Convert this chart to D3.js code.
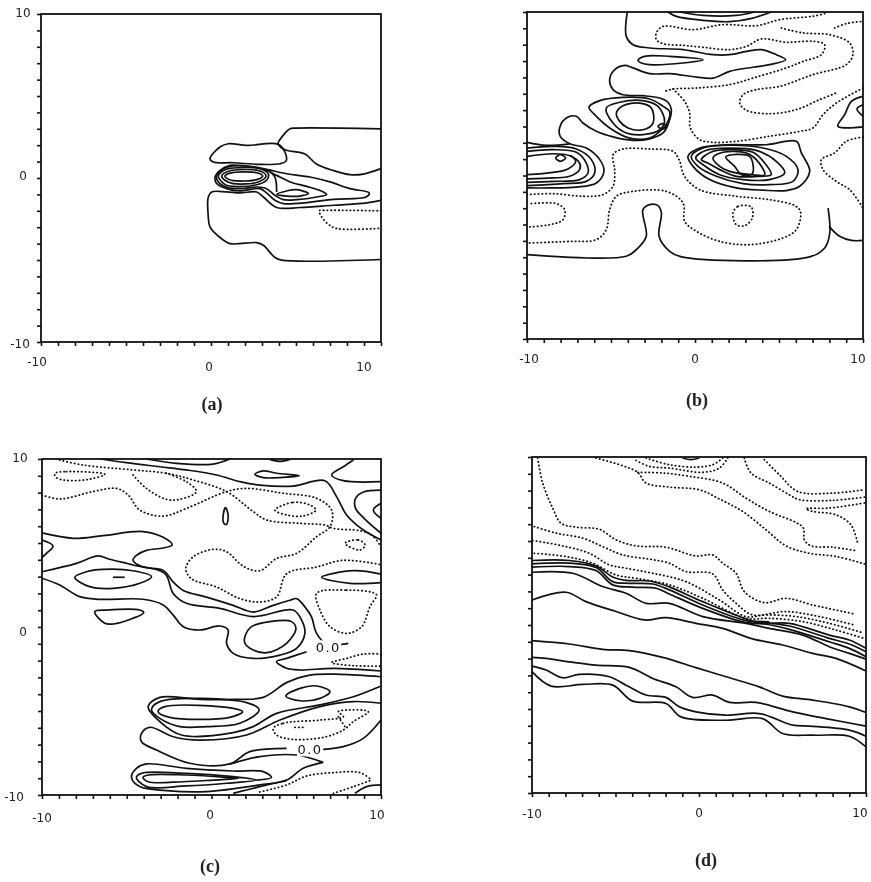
<!DOCTYPE html>
<html>
<head>
<meta charset="utf-8">
<script src="https://cdn.jsdelivr.net/npm/d3@7"></script>
<style>
  body { margin: 0; background: #fff; }
  svg { display: block; filter: blur(0.35px); }
  .frame { fill: none; stroke: #111; stroke-width: 1.8; }
  .solid { fill: none; stroke: #111; stroke-width: 1.7; stroke-linejoin: round; }
  .dotted { fill: none; stroke: #111; stroke-width: 1.8; stroke-linecap: round; stroke-dasharray: 0.4 3.4; }
  .tick-label { font-family: "DejaVu Sans", sans-serif; font-size: 12px; fill: #222; text-anchor: middle; }
  .panel-label { font-family: "Liberation Serif", serif; font-size: 18px; fill: #222; text-anchor: middle; font-weight: bold; }
  .level-label { font-family: "DejaVu Sans", sans-serif; font-size: 13px; fill: #111; text-anchor: middle; letter-spacing: 1.5px; }
</style>
</head>
<body>
<svg id="chart" width="871" height="882"></svg>
<script>
// Axis values
const axisDomain = [-10, 10];
const tickValues = d3.range(-10, 11);
const labelValues = [-10, 0, 10];

// Panel (a) contours, [x, y] in plot units
const aSolid = [
  [[10,3.0],[5.04,3.04],[4.65,3.0],[3.96,2.17],[3.96,2.05],[4.35,1.72],[5.53,1.46],[6.2,.85],[7.2,.45],[8.18,.2],[8.96,.24],[10,.57]],
  [[10,-4.97],[4.16,-5.01],[3.76,-4.85],[3.08,-4.1],[2.69,-3.94],[1.12,-4.0],[.53,-3.63],[-.06,-2.98],[-.16,-2.37],[-.16,-1.16],[.04,-.85],[.92,-.85],[1.7,-.91],[2.69,-.85],[3.08,-1.16],[3.86,-1.8],[5.24,-1.8],[7.2,-1.66],[9.16,-1.52],[10,-1.36]],
  [[3.37,.47],[3.76,.06],[3.86,-.85]]
];
const aClosed = [
  [[-.06,1.18],[.53,1.89],[1.02,2.09],[2.1,1.99],[3.96,2.05],[4.39,1.48],[4.41,1.03],[4.06,.87],[2.88,.83],[1.31,.93],[.14,.97]],
  [[9.31,-.91],[9.12,-1.16],[7.2,-1.3],[5.63,-1.5],[4.25,-1.56],[3.76,-1.36],[3.27,-.91],[2.88,-.65],[1.7,-.79],[.92,-.65],[.33,-.34],[.24,.06],[.53,.47],[1.12,.77],[2.1,.73],[3.08,.57],[4.45,.26],[5.82,.06],[7.0,-.24],[8.18,-.65]],
  [[3.27,.47],[3.86,.16],[4.65,-.24],[5.63,-.51],[6.61,-.85],[6.8,-1.01],[6.22,-1.16],[5.04,-1.32],[4.25,-1.32],[3.76,-1.06],[3.27,-.65],[2.69,-.55],[1.7,-.65],[.92,-.55],[.43,-.24],[.33,.12],[.73,.57],[1.31,.73],[2.49,.67]],
  [[.43,.12],[.82,.51],[1.31,.61],[2.88,.57],[3.37,.26],[3.27,-.14],[2.69,-.41],[1.31,-.51],[.82,-.39]],
  [[.63,.12],[1.02,.41],[2.88,.43],[3.24,.12],[2.78,-.24],[1.31,-.34],[.82,-.14]],
  [[.82,.12],[1.12,.3],[2.69,.32],[3.04,.12],[2.69,-.1],[1.31,-.16],[.96,-.04]],
  [[3.86,-1.0],[4.45,-.79],[5.04,-.71],[5.73,-.95],[5.24,-1.1],[4.45,-1.1]]
];
const aDotted = [
  [[10,-2.0],[6.8,-1.97],[6.37,-2.0],[6.51,-2.37],[6.9,-2.82],[7.39,-3.08],[10,-3.06]]
];

// Panel (b) contours
const bSolid = [
  [[-4.03,10],[-4.09,8.51],[-3.69,8.0],[-2.7,7.8],[-.71,7.7],[1.07,7.39],[2.06,7.39],[3.06,7.59],[3.95,7.7],[4.84,7.39],[5.4,7.08],[4.44,6.78],[3.45,6.62],[2.06,6.37],[1.07,5.96],[.08,6.02],[-1.51,6.23],[-2.7,6.23],[-3.69,6.58],[-4.19,6.74],[-4.78,6.47],[-5.08,5.86],[-4.88,5.25],[-4.29,4.94],[-3.1,4.88],[-2.1,4.74],[-1.61,4.48],[-1.41,4.04],[-1.61,3.11],[-1.9,2.6],[-2.7,2.24],[-3.69,2.15],[-4.88,2.36],[-5.87,2.7],[-6.67,3.21],[-7.06,3.62],[-7.66,3.52],[-8.06,2.91],[-8.02,2.39],[-7.46,1.94],[-6.47,1.68],[-5.67,.97],[-5.42,.26],[-5.87,-.46],[-7.06,-.71],[-8.65,-.76],[-10,-.76]],
  [[-1.61,10],[-1.11,9.73],[.48,9.49],[2.06,9.41],[3.45,9.63],[4.54,10]],
  [[-.91,10],[.48,9.79],[2.46,9.79],[3.55,10]],
  [[10,4.84],[9.31,4.54],[8.91,3.72],[8.51,3.01],[10,2.97]],
  [[10,4.33],[9.64,4.07],[10,3.62]],
  [[-10,2.03],[-8.85,1.85],[-7.46,1.94]],
  [[-10,1.68],[-8.45,1.78],[-7.06,1.62],[-6.17,.97],[-5.97,.15],[-6.47,-.36],[-7.86,-.5],[-10,-.62]],
  [[-10,1.48],[-8.45,1.58],[-7.06,1.42],[-6.47,.76],[-6.37,.15],[-6.87,-.25],[-8.45,-.36],[-10,-.42]],
  [[-10,1.17],[-8.45,1.33],[-7.46,1.21],[-6.87,.76],[-6.87,.36],[-7.46,-.05],[-8.45,-.15],[-10,-.21]],
  [[-10,.05],[-8.45,.19],[-7.56,.4],[-7.1,.87],[-7.46,1.27]],
  [[-10,-4.84],[-4.09,-4.94],[-3.39,-4.43],[-2.9,-3.72],[-3.1,-2.09],[-2.7,-1.78],[-2.2,-1.84],[-2,-2.29],[-2.14,-3.72],[-1.51,-4.64],[-.81,-4.98],[6.83,-4.98],[7.72,-4.43],[8.02,-3.52],[7.92,-2.0]],
  [[7.98,-3.11],[8.61,-3.72],[9.31,-3.97],[10,-3.97]]
];
const bClosed = [
  [[-3.39,7.04],[-3,7.29],[-1.51,7.29],[.48,7.08],[-.71,6.88],[-2.7,6.78],[-3.19,6.88]],
  [[-6.31,4.19],[-5.67,4.58],[-4.29,4.78],[-2.7,4.68],[-1.9,4.23],[-1.51,3.92],[-1.71,3.11],[-2.1,2.7],[-2.7,2.29],[-3.89,2.29],[-5.08,2.91],[-5.87,3.62]],
  [[-5.28,4.13],[-4.48,4.48],[-3.1,4.58],[-2.2,4.23],[-1.81,3.31],[-2.1,2.8],[-3.1,2.5],[-4.09,2.6],[-4.88,3.21]],
  [[-4.68,3.82],[-4.29,4.27],[-3.29,4.43],[-2.6,4.13],[-2.5,3.21],[-3.1,2.8],[-3.99,2.91],[-4.48,3.31]],
  [[-2.2,3.01],[-1.94,3.17],[-1.67,3.01],[-1.94,2.85]],
  [[-8.29,1.07],[-8.02,1.27],[-7.7,1.07],[-8.02,.87]],
  [[-.42,1.17],[.28,1.68],[1.87,1.88],[4.25,1.88],[6.03,2.09],[6.33,1.38],[6.83,.25],[6.23,-.66],[5.44,-.92],[4.05,-.9],[2.46,-.76],[.87,-.25],[-.12,.56]],
  [[-.22,1.17],[.48,1.68],[2.06,1.85],[4.05,1.68],[5.44,1.17],[6.13,.36],[5.83,-.36],[4.44,-.56],[2.86,-.5],[1.27,-.05],[.18,.56]],
  [[.04,1.07],[.67,1.54],[2.06,1.68],[3.65,1.54],[4.84,.87],[5.34,.15],[4.44,-.25],[2.86,-.25],[1.47,.05],[.48,.66]],
  [[.38,.97],[.97,1.44],[2.06,1.58],[3.45,1.42],[4.15,.76],[4.54,.05],[3.85,-.05],[2.46,-.05],[1.47,.36],[.77,.76]],
  [[1.07,1.07],[1.67,1.42],[3.06,1.38],[3.65,.97],[4.15,.05],[3.35,.05],[2.06,.25],[1.47,.56]],
  [[1.83,1.13],[3.25,1.17],[3.41,.11],[2.76,.05],[2.36,.56]]
];
const bDotted = [
  [[7.72,9.9],[7.02,9.74],[5.04,9.53],[3.65,9.16],[1.67,9.23],[-.12,8.92],[-1.9,9.12],[-2.3,8.72],[-2.3,8.31],[-1.9,8.06],[-.71,7.96],[.48,7.84],[2.06,7.7],[3.06,7.9],[3.95,8.35],[5.44,8.15],[7.02,8.21],[7.72,8.0],[7.52,7.39],[6.43,6.98],[5.44,6.58],[3.65,6.02],[2.06,5.56],[.08,5.35],[-1.31,5.29],[-1.9,5.11]],
  [[-1.31,5.29],[-.62,4.54],[-.32,3.82],[-.28,2.91],[.28,2.19],[1.07,2.03],[2.46,2.09],[4.44,2.4],[6.23,2.7],[7.02,2.91],[7.62,3.72],[8.41,4.43],[10,5.35]],
  [[5.14,9.02],[6.43,8.72],[8.02,8.61],[9.21,8.1],[9.4,7.39],[9.0,6.78],[7.02,6.17],[5.04,5.45],[3.65,5.25],[2.86,4.94],[2.66,4.43],[3.06,3.99],[4.44,3.78],[6.03,4.03],[7.42,4.64],[8.41,5.05]],
  [[8.31,9.02],[9.0,9.29],[10,9.43]],
  [[-10,-1.17],[-8.45,-1.11],[-6.67,-1.27],[-5.48,-1.17],[-4.88,-.66],[-4.78,.36],[-4.88,1.27],[-4.29,1.62],[-2.7,1.62],[-1.31,1.48],[-.95,.97],[-.62,-.05],[.28,-.87],[2.46,-1.27],[4.44,-1.48],[6.03,-1.89],[6.29,-2.29],[6.03,-3.31],[5.24,-3.82],[3.25,-4.23],[1.47,-4.03],[.08,-3.41],[-.62,-2.8],[-.71,-1.68],[-1.71,-.97],[-3.69,-.97],[-4.68,-1.27],[-5.08,-2.09],[-5.28,-3.31],[-5.87,-3.92],[-7.46,-4.03],[-10,-4.13]],
  [[-9.74,-1.72],[-8.25,-1.72],[-7.76,-2.09],[-7.86,-2.7],[-8.65,-3.01],[-10,-3.15]],
  [[10,2.35],[9.0,2.09],[8.31,1.38],[7.52,.97],[7.62,.36],[8.41,-.36],[9.21,-.87],[10,-1.99]]
];
const bDottedClosed = [
  [[2.26,-2.29],[2.56,-1.89],[3.35,-1.93],[3.41,-2.6],[2.96,-3.07],[2.46,-3.01]]
];

// Panel (c) contours
const cSolid = [
  [[-6.5,10],[-5.02,9.78],[-3.05,9.54],[-1.48,9.35],[.3,9.05],[1.67,8.65],[2.85,8.45],[4.82,8.39],[6.69,8.71],[7.38,7.76],[7.97,6.67],[8.96,5.77],[10,5.18]],
  [[-3.84,10],[-2.07,9.74],[.1,9.7],[1.08,10]],
  [[3.44,9.98],[4.04,9.86],[4.63,9.98]],
  [[8.37,9.94],[7.78,9.54],[7.09,9.05],[7.78,8.71],[10,8.65]],
  [[10,8.15],[9.0,8.05],[8.5,7.66],[8.5,7.06],[9.0,6.47],[10,5.58]],
  [[10,7.36],[9.55,6.96],[10,6.47]],
  [[-10,5.6],[-8.14,5.28],[-6.4,5.44],[-4.04,5.68],[-2.85,5.34],[-2.32,4.89],[-2.85,4.7],[-3.84,4.56],[-4.43,4.26],[-4.63,3.97],[-4.04,3.57],[-2.85,3.37],[-2.26,2.68],[-1.67,2.18],[-.3,1.78],[1.28,1.29],[2.46,.89],[3.64,1.29],[4.63,1.59],[5.02,1.69],[5.51,1.2],[5.9,.6],[6.2,-.38],[6.79,-1.01],[8.07,-.97]],
  [[-10,3.29],[-7.97,3.79],[-6.69,4.23],[-6,4.03],[-4.63,3.69],[-2.76,3.19],[-2.26,2],[-1.48,1.41],[.49,1.11],[2.46,.62],[4.82,1.01],[5.31,.42],[5.51,-.38],[5.02,-1.27],[4.04,-1.67],[2.46,-1.87],[1.28,-1.57],[.89,-.97],[.98,-.18],[.49,.06],[-.69,-.18],[-1.67,.02],[-2.26,.71],[-2.85,1.31],[-4.04,1.65],[-6.59,1.65],[-7.78,1.81],[-8.96,2.5],[-10,2.9]],
  [[-10,5.18],[-9.35,4.82],[-9.74,4.38],[-10,4.13]],
  [[-5.81,2.96],[-5.12,2.96]],
  [[10,3.15],[8.37,3.35],[6.5,2.96],[8.17,2.6],[10,2.64]],
  [[5.61,-1.47],[4.43,-1.87],[3.84,-2.06],[4.43,-2.46],[5.22,-2.56],[7.19,-2.46],[10,-2.62]],
  [[10,-2.96],[7.64,-2.82],[5.81,-2.86],[4.43,-3.31],[3.05,-4.19],[1.28,-4.31],[-.69,-4.31],[-3.05,-4.19],[-3.74,-4.74],[-3.05,-5.63],[-1.77,-6.43],[1.28,-6.29],[2.46,-5.93],[3.84,-5.14],[6.4,-4.64],[8.37,-4.15],[10,-3.51]],
  [[10,-4.54],[8.37,-4.44],[6.4,-4.74],[4.04,-5.54],[2.07,-6.43],[-.69,-6.73],[-2.26,-6.53],[-3.64,-5.97],[-4.13,-6.33],[-4.13,-6.83],[-3.25,-7.32],[-1.28,-8.11],[1.08,-8.15],[2.26,-7.42],[4.43,-7.22]],
  [[6.59,-7.28],[7.78,-7.12],[8.96,-6.63],[10,-5.54]],
  [[1.08,-8.17],[2.85,-7.72],[5.02,-7.62],[6.59,-8.06]],
  [[6.59,-8.06],[5.41,-8.41],[4.43,-9.11],[2.85,-9.4],[-.3,-9.8],[-2.66,-9.74],[-4.23,-9.5],[-4.72,-8.95],[-4.43,-8.41],[-3.84,-8.15],[-1.48,-8.41],[1.28,-8.57],[3.05,-8.61],[3.54,-8.95],[2.66,-9.11]],
  [[10,-9.4],[9.15,-9.5],[8.46,-9.9]],
  [[1.28,-9.9],[2.85,-9.5],[4.43,-9.15]]
];
const cClosed = [
  [[2.56,9.09],[3.05,9.29],[3.84,9.15],[5.18,9.01],[4.23,8.91],[3.05,8.89]],
  [[.69,6.67],[.83,7.1],[.98,6.67],[.89,6.11],[.73,6.17]],
  [[-8.07,2.96],[-7.38,3.29],[-6.4,3.43],[-4.63,3.35],[-3.54,3.0],[-4.23,2.6],[-5.81,2.3],[-7.19,2.4]],
  [[-6.89,.91],[-6.2,1.01],[-4.23,1.01],[-4,.85],[-4.63,.52],[-5.81,.18],[-6.3,.22]],
  [[1.97,-.58],[2.36,.02],[3.44,.32],[4.72,.32],[4.98,-.08],[4.43,-.97],[3.25,-1.53],[2.26,-1.27],[1.97,-.97]],
  [[4.39,-4.11],[5.22,-3.65],[6.2,-3.51],[6.99,-3.85],[6.4,-4.25],[5.22,-4.39]],
  [[-3.54,-4.94],[-3.05,-4.44],[2.07,-4.5],[2.81,-4.94],[1.67,-5.73],[-.3,-5.93],[-1.87,-5.93],[-3.05,-5.44]],
  [[-3.15,-5.04],[-2.76,-4.74],[1.28,-4.84],[1.83,-5.04],[1.08,-5.38],[-2.46,-5.38]],
  [[-4.43,-8.95],[-4.13,-8.71],[-1.48,-8.71],[1.28,-8.91],[2.66,-9.11],[.89,-9.3],[-1.48,-9.46],[-3.84,-9.5]],
  [[-4.04,-8.95],[-3.74,-8.81],[-1.48,-8.81],[.89,-8.95],[1.57,-9.01],[.1,-9.11],[-1.67,-9.21],[-3.74,-9.21]]
];
const cDotted = [
  [[-8.96,9.94],[-7.58,9.64],[-4.63,9.35],[-2.66,9.15],[-1.08,8.75],[.89,8.06],[2.46,6.87],[3.25,6.37],[5.22,6.17],[6.69,6.07],[7.19,5.87],[8.76,5.73],[9.45,5.48],[10,4.78]],
  [[-10,7.86],[-8.96,7.62],[-6.99,8.06],[-5.61,8.25],[-4.92,7.86],[-4.23,6.96],[-2.85,6.6],[-1.48,7.06],[.89,8.06],[2.07,8.25],[4.23,7.96],[6.2,7.66],[7.09,6.96],[6.99,5.97],[6.2,5.38],[5.02,4.38],[3.84,4.08],[2.85,3.35],[1.87,3.62],[.89,4.48],[.1,4.62],[-1.08,4.18],[-1.52,3.47],[-1.18,2.87],[.3,2.38],[1.67,1.69],[2.85,1.49],[3.84,1.79],[4.43,3.17],[6.2,3.57],[7.78,3.97],[10,3.71]],
  [[-4.63,9.05],[-3.84,8.25],[-2.66,7.6],[-1.87,7.6],[-.89,8.06],[-1.48,8.65],[-2.66,9.15]],
  [[10,-1.61],[8.96,-1.61],[7.97,-1.87],[7.09,-2.12],[8.37,-2.3],[10,-2.32]],
  [[2.85,-9.82],[4.43,-9.4],[5.61,-8.87],[7.19,-8.67],[8.76,-8.67],[9.45,-9.11]],
  [[7.19,-9.9],[8.37,-9.5],[9.45,-9.11]],
  [[7.48,-5.34],[7.87,-5.93]],
  [[4.92,-5.97],[5.41,-5.97]]
];
const cDottedClosed = [
  [[-9.25,9.13],[-8.56,9.25],[-6.3,9.09],[-7.19,8.8],[-8.56,8.73],[-9.15,8.89]],
  [[3.74,6.96],[4.82,7.42],[5.81,7.26],[6.16,6.96],[5.41,6.61],[4.43,6.67]],
  [[7.87,4.98],[8.66,5.18],[9.06,4.88],[8.76,4.58]],
  [[6.2,2.0],[7.97,2.2],[9.55,2.04],[9.74,1.9],[9.35,1.21],[8.86,.02],[7.97,-.38],[6.99,.02],[6.4,1.01]],
  [[3.64,-6.03],[4.23,-5.73],[6.4,-5.54],[7.78,-5.34],[7.48,-5.04],[7.97,-4.94],[9.25,-5.04],[8.37,-5.63],[7.78,-6.13],[6.6,-6.57],[4.82,-6.69],[3.84,-6.43]]
];
const cLevelLabels = [
  { x: 6.89, y: -1.21, text: "0.0" },
  { x: 5.81, y: -7.28, text: "0.0" }
];

// Panel (d) contours
const dSolid = [
  [[-10,3.84],[-7.76,3.84],[-6.17,3.52],[-5.17,2.86],[-4.37,2.66],[-2.97,2.62],[-1.78,2.27],[.22,1.39],[3.01,.3],[3.91,.1],[5.41,.1],[7.8,-.6],[9,-.89],[10,-1.39]],
  [[-10,3.64],[-7.76,3.68],[-6.17,3.42],[-5.17,2.58],[-4.17,2.48],[-2.77,2.44],[-1.78,2.09],[.22,1.19],[2.81,.26],[3.91,.14],[5.41,-.06],[7.8,-.8],[9,-1.13],[10,-1.59]],
  [[-10,3.44],[-7.76,3.48],[-6.17,3.24],[-5.17,2.39],[-3.97,2.25],[-2.57,2.19],[-1.78,1.85],[.22,.99],[2.81,.14],[3.91,.06],[5.41,-.26],[7.8,-1.0],[9,-1.39],[10,-1.89]],
  [[-10,3.14],[-7.56,3.08],[-5.77,2.29],[-4.37,1.89],[-3.17,1.29],[-1.78,1.29],[.22,.5],[2.81,.1],[4.21,-.2],[6.21,-.6],[7.8,-1.29],[9,-1.69],[10,-2.03]],
  [[-10,1.49],[-7.96,1.95],[-6.77,1.39],[-4.97,.8],[-3.27,.3],[-1.98,.44],[-.18,.1],[1.42,-.2],[3.21,-.83],[5.01,-1.19],[6.81,-1.69],[8.2,-1.99],[10,-2.74]],
  [[-10,-.93],[-7.76,-1.13],[-5.77,-1.45],[-4.17,-1.53],[-2.18,-1.93],[-.18,-2.54],[1.62,-3.08],[3.61,-3.68],[5.01,-4.23],[6.81,-4.47],[9,-4.87],[10,-5.21]],
  [[-10,-1.93],[-9.16,-1.99],[-7.76,-2.19],[-6.17,-2.39],[-4.17,-2.52],[-2.77,-3.18],[-1.38,-3.68],[-.38,-4.31],[.82,-4.17],[1.82,-4.61],[3.41,-4.61],[5.61,-5.17],[7.6,-5.57],[10,-6.02]],
  [[-10,-2.45],[-9.16,-2.68],[-8.16,-3.14],[-7.17,-2.94],[-5.37,-3.08],[-4.37,-3.58],[-3.17,-4.17],[-1.98,-4.31],[-1.18,-4.87],[-.18,-5.17],[1.62,-5.37],[3.61,-5.27],[5.61,-5.96],[6.61,-6.02],[9,-6.26],[10,-6.62]],
  [[-10,-2.78],[-8.86,-3.64],[-6.97,-3.54],[-5.17,-3.58],[-3.97,-4.53],[-1.98,-4.67],[-1.08,-5.47],[1.62,-5.67],[3.81,-5.57],[5.01,-6.46],[6.81,-6.56],[9,-6.62],[10,-7.26]],
  [[-.98,9.94],[-.48,9.84],[.02,9.94]]
];
const dHeavy = [
  [[3.31,.16],[4.21,.14]]
];
const dDotted = [
  [[-9.66,9.94],[-9.36,8.45],[-8.76,6.96],[-8.26,6.06],[-7.36,5.82],[-5.97,5.7],[-4.97,5.07],[-3.77,4.71],[-1.98,4.63],[-.18,4.11],[.82,4.17],[1.42,3.68],[2.22,3.08],[2.71,1.99],[3.91,1.33],[5.21,1.59],[6.81,1.19],[9.3,.66]],
  [[-9.86,5.86],[-8.56,5.47],[-6.97,5.17],[-5.77,4.67],[-4.57,4.17],[-2.97,3.92],[-1.78,3.68],[-.78,3.18],[.82,3.04],[1.42,2.09],[2.22,1.29],[3.21,.6],[5.21,.8],[7.21,.5],[9.3,0]],
  [[-9.96,5.03],[-8.16,4.71],[-6.57,4.27],[-5.37,3.58],[-4.37,3.38],[-2.77,3.08],[-.78,2.58],[1.22,1.49],[2.81,.5],[4.01,.6],[5.81,.5],[7.8,.1],[9.8,-.46]],
  [[-9.86,4.27],[-7.96,4.07],[-6.37,3.68],[-4.97,2.98],[-3.77,2.78],[-1.78,2.39],[.22,1.59],[2.81,.4],[4.21,.4],[6.21,.2],[8.2,-.3],[9.9,-.8]],
  [[-3.77,9.8],[-2.97,9.44],[-1.78,9.34],[.22,9.09],[1.22,9.34],[1.72,9.94]],
  [[-3.17,9.94],[-1.78,9.54],[-.18,9.4],[.82,9.54],[1.42,9.94]],
  [[-6.17,9.94],[-4.57,9.48],[-3.67,9.09],[-3.17,8.45],[-1.78,8.21],[.02,8.05],[1.22,7.5],[2.61,6.76],[4.01,5.67],[5.21,4.71],[6.61,4.27],[8.2,4.08],[9.9,3.64]],
  [[-3.67,9.09],[-2.18,9.05],[-.58,8.85],[1.42,8.45],[2.81,7.55],[4.21,6.76],[5.81,6.1],[6.25,5.77],[6.31,5.07],[6.71,4.71],[8.0,4.63],[9.5,4.41]],
  [[2.71,9.94],[3.11,9.05],[4.21,8.45],[5.41,7.75],[6.01,7.46],[8.0,7.42],[9.9,7.61]],
  [[3.91,9.84],[4.81,8.95],[5.91,7.95],[8.0,7.85],[9.9,8.05]],
  [[9.9,7.26],[7.8,6.96],[6.41,6.92],[6.81,6.76],[8.2,6.56],[9.1,5.96],[9.5,4.87]]
];

// Panel frames and tick labels, in page pixels
const panels = [
  { name: "(a)", left: 41, right: 381, top: 14, bottom: 342, labelX: 212, labelY: 410,
    yLabels: [[23, 17], [23, 180], [20, 348]], xLabels: [[37, 366], [209, 371], [364, 371]],
    solid: aSolid, closed: aClosed, dotted: aDotted, dottedClosed: [], heavy: [], levels: [] },
  { name: "(b)", left: 527, right: 863, top: 12, bottom: 339, labelX: 697, labelY: 406,
    yLabels: [], xLabels: [[529, 363], [695, 363], [858, 363]],
    solid: bSolid, closed: bClosed, dotted: bDotted, dottedClosed: bDottedClosed, heavy: [], levels: [] },
  { name: "(c)", left: 42, right: 381, top: 459, bottom: 795, labelX: 210, labelY: 872,
    yLabels: [[20, 462], [23, 636], [14, 801]], xLabels: [[42, 822], [210, 819], [377, 819]],
    solid: cSolid, closed: cClosed, dotted: cDotted, dottedClosed: cDottedClosed, heavy: [], levels: cLevelLabels },
  { name: "(d)", left: 532, right: 866, top: 457, bottom: 793, labelX: 706, labelY: 866,
    yLabels: [], xLabels: [[532, 818], [699, 817], [860, 817]],
    solid: dSolid, closed: [], dotted: dDotted, dottedClosed: [], heavy: dHeavy, levels: [] }
];

const svg = d3.select("#chart");

panels.forEach((p) => {
  const xScale = d3.scaleLinear().domain(axisDomain).range([p.left, p.right]);
  const yScale = d3.scaleLinear().domain(axisDomain).range([p.bottom, p.top]);
  const g = svg.append("g");

  const openLine = d3.line().x((d) => xScale(d[0])).y((d) => yScale(d[1])).curve(d3.curveCatmullRom.alpha(0.5));
  const closedLine = d3.line().x((d) => xScale(d[0])).y((d) => yScale(d[1])).curve(d3.curveCatmullRomClosed.alpha(0.5));

  // Contours
  g.selectAll(".open-solid").data(p.solid).enter().append("path").attr("class", "solid").attr("d", openLine);
  g.selectAll(".closed-solid").data(p.closed).enter().append("path").attr("class", "solid").attr("d", closedLine);
  g.selectAll(".open-dotted").data(p.dotted).enter().append("path").attr("class", "dotted").attr("d", openLine);
  g.selectAll(".closed-dotted").data(p.dottedClosed).enter().append("path").attr("class", "dotted").attr("d", closedLine);
  g.selectAll(".heavy").data(p.heavy).enter().append("path").attr("class", "solid").style("stroke-width", 3.5).attr("d", openLine);

  // Frame
  g.append("rect").attr("class", "frame")
    .attr("x", p.left).attr("y", p.top)
    .attr("width", p.right - p.left).attr("height", p.bottom - p.top);

  // Ticks, labels are placed by hand because they sit unevenly in the scan
  const xAxis = d3.axisBottom(xScale).tickValues(tickValues).tickSize(4).tickFormat("");
  const yAxis = d3.axisLeft(yScale).tickValues(tickValues).tickSize(4).tickFormat("");
  g.append("g").attr("transform", `translate(0,${p.bottom})`).call(xAxis).call((s) => s.select(".domain").remove());
  g.append("g").attr("transform", `translate(${p.left},0)`).call(yAxis).call((s) => s.select(".domain").remove());
  g.selectAll(".tick line").attr("stroke", "#111").attr("stroke-width", 1.6);

  p.xLabels.forEach((pos, i) => {
    g.append("text").attr("class", "tick-label").attr("x", pos[0]).attr("y", pos[1]).text(labelValues[i]);
  });
  p.yLabels.forEach((pos, i) => {
    g.append("text").attr("class", "tick-label").attr("x", pos[0]).attr("y", pos[1]).text(labelValues[2 - i]);
  });

  // In-plot level labels sit on a white patch that breaks the contour
  p.levels.forEach((d) => {
    g.append("rect").attr("x", xScale(d.x) - 13).attr("y", yScale(d.y) - 7).attr("width", 26).attr("height", 14).attr("fill", "#fff");
    g.append("text").attr("class", "level-label").attr("x", xScale(d.x)).attr("y", yScale(d.y) + 5).text(d.text);
  });

  g.append("text").attr("class", "panel-label").attr("x", p.labelX).attr("y", p.labelY).text(p.name);
});
</script>
</body>
</html>
